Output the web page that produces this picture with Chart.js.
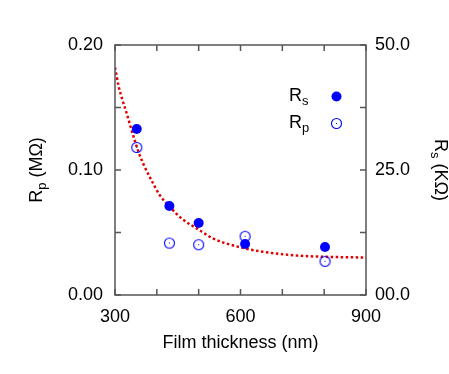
<!DOCTYPE html>
<html>
<head>
<meta charset="utf-8">
<script src="https://cdn.jsdelivr.net/npm/chart.js@4"></script>
<style>
  html, body { margin: 0; padding: 0; background: #fff; }
  #wrap { width: 449px; height: 374px; position: relative; }
</style>
</head>
<body>
<div id="wrap"><canvas id="chart"></canvas></div>
<script>
// Data
const thickness = [352, 430, 500, 611, 802];
const rsValues = [33.2, 17.8, 14.4, 10.2, 9.6];        // K ohm, right axis
const rpValues = [0.118, 0.0415, 0.0402, 0.0469, 0.0269]; // M ohm, left axis

// dotted fit curve
const fitX = [300, 309, 318, 328, 335, 347, 359, 371, 387, 407, 431, 459, 502, 534, 610, 654, 718, 798, 900];
const fitY = [0.182, 0.1665, 0.1558, 0.1452, 0.1372, 0.1238, 0.1119, 0.1025, 0.0919, 0.0799, 0.0706, 0.0613, 0.0519, 0.0453, 0.0373, 0.0346, 0.0320, 0.0306, 0.0300];

const xLabels = [300, 600, 900];
const leftLabels = [0, 0.1, 0.2];
const rightLabels = [0, 25, 50];

const FONT = '"Liberation Sans", Arial, sans-serif';
const BLUE = '#0000ff';
const FRAME = '#555555';

// open circle with a small dot in the middle
function openCircle() {
    const c = document.createElement('canvas');
    c.width = 13; c.height = 13;
    const g = c.getContext('2d');
    g.strokeStyle = BLUE;
    g.lineWidth = 1.1;
    g.beginPath();
    g.arc(6.5, 6.5, 5, 0, Math.PI * 2);
    g.stroke();
    g.fillStyle = BLUE;
    g.fillRect(6, 6, 1, 1);
    return c;
}
const rpPoint = openCircle();

// frame, inward ticks, axis titles and legend
const decor = {
    id: 'decor',
    afterDraw(chart) {
        const ctx = chart.ctx;
        const a = chart.chartArea;
        const x = chart.scales.x, y = chart.scales.y, y2 = chart.scales.y2;
        ctx.save();
        ctx.strokeStyle = FRAME;
        ctx.lineWidth = 1.5;
        ctx.strokeRect(a.left, a.top, a.right - a.left, a.bottom - a.top);

        const len = 6;
        ctx.beginPath();
        x.ticks.forEach(t => {
            const px = x.getPixelForValue(t.value);
            ctx.moveTo(px, a.bottom); ctx.lineTo(px, a.bottom - len);
            ctx.moveTo(px, a.top); ctx.lineTo(px, a.top + len);
        });
        y.ticks.forEach(t => {
            const py = y.getPixelForValue(t.value);
            ctx.moveTo(a.left, py); ctx.lineTo(a.left + len, py);
        });
        y2.ticks.forEach(t => {
            const py = y2.getPixelForValue(t.value);
            ctx.moveTo(a.right, py); ctx.lineTo(a.right - len, py);
        });
        ctx.stroke();

        ctx.fillStyle = '#000';
        ctx.textBaseline = 'alphabetic';

        // R with subscript, starting at (0,0)
        function rSub(sub, textAfter) {
            ctx.font = '18px ' + FONT;
            ctx.textAlign = 'left';
            ctx.fillText('R', 0, 0);
            let w = ctx.measureText('R').width;
            ctx.font = '13px ' + FONT;
            ctx.fillText(sub, w, 4);
            w += ctx.measureText(sub).width;
            if (textAfter) {
                ctx.font = '18px ' + FONT;
                ctx.fillText(textAfter, w, 0);
                w += ctx.measureText(textAfter).width;
            }
            return w;
        }
        function measureRSub(sub, textAfter) {
            ctx.font = '18px ' + FONT;
            let w = ctx.measureText('R').width;
            ctx.font = '13px ' + FONT;
            w += ctx.measureText(sub).width;
            if (textAfter) {
                ctx.font = '18px ' + FONT;
                w += ctx.measureText(textAfter).width;
            }
            return w;
        }

        const midY = (a.top + a.bottom) / 2;
        // left title
        ctx.save();
        ctx.translate(42, midY);
        ctx.rotate(-Math.PI / 2);
        let w = measureRSub('p', ' (M\u03A9)');
        ctx.translate(-w / 2, 0);
        rSub('p', ' (M\u03A9)');
        ctx.restore();

        // right title
        ctx.save();
        ctx.translate(435, midY);
        ctx.rotate(Math.PI / 2);
        w = measureRSub('s', ' (K\u03A9)');
        ctx.translate(-w / 2, 0);
        rSub('s', ' (K\u03A9)');
        ctx.restore();

        // x title
        ctx.font = '18px ' + FONT;
        ctx.textAlign = 'center';
        ctx.fillText('Film thickness (nm)', (a.left + a.right) / 2, 348);

        // legend
        ctx.save();
        ctx.translate(289, 101);
        rSub('s');
        ctx.restore();
        ctx.save();
        ctx.translate(289, 128);
        rSub('p');
        ctx.restore();
        ctx.fillStyle = BLUE;
        ctx.beginPath();
        ctx.arc(336.5, 96.5, 5, 0, Math.PI * 2);
        ctx.fill();
        ctx.drawImage(rpPoint, 336.5 - 6.5, 123.5 - 6.5);
        ctx.restore();
    }
};

const tickFont = { family: FONT, size: 18 };

new Chart(document.getElementById('chart'), {
    type: 'scatter',
    data: {
        datasets: [
            {
                label: 'Rs',
                data: thickness.map((t, i) => ({ x: t, y: rsValues[i] })),
                yAxisID: 'y2',
                backgroundColor: BLUE,
                borderColor: BLUE,
                pointRadius: 5,
                borderWidth: 0,
                order: 1
            },
            {
                label: 'Rp',
                data: thickness.map((t, i) => ({ x: t, y: rpValues[i] })),
                yAxisID: 'y',
                pointStyle: rpPoint,
                order: 2
            },
            {
                label: 'fit',
                data: fitX.map((t, i) => ({ x: t, y: fitY[i] })),
                yAxisID: 'y',
                showLine: true,
                borderColor: '#e00000',
                borderWidth: 2.5,
                borderDash: [2.5, 2.5],
                pointRadius: 0,
                tension: 0.4,
                cubicInterpolationMode: 'monotone',
                order: 3
            }
        ]
    },
    options: {
        responsive: true,
        maintainAspectRatio: false,
        animation: false,
        events: [],
        layout: { padding: { top: 45, left: 0, right: 0, bottom: 0 } },
        plugins: {
            legend: { display: false },
            tooltip: { enabled: false }
        },
        scales: {
            x: {
                type: 'linear',
                position: 'bottom',
                min: 300, max: 900,
                border: { display: false },
                grid: { display: false, drawTicks: false },
                ticks: {
                    stepSize: 100,
                    padding: 11,
                    color: '#000',
                    font: tickFont,
                    maxRotation: 0,
                    autoSkip: false,
                    callback: v => xLabels.includes(v) ? String(v) : ''
                },
                afterFit: s => { s.height = 79; }
            },
            y: {
                position: 'left',
                min: 0, max: 0.2,
                border: { display: false },
                grid: { display: false, drawTicks: false },
                ticks: {
                    stepSize: 0.05,
                    padding: 12,
                    color: '#000',
                    font: tickFont,
                    autoSkip: false,
                    callback: v => leftLabels.some(l => Math.abs(l - v) < 1e-9) ? v.toFixed(2) : ''
                },
                afterFit: s => { s.width = 115; }
            },
            y2: {
                position: 'right',
                min: 0, max: 50,
                border: { display: false },
                grid: { display: false, drawTicks: false },
                ticks: {
                    stepSize: 12.5,
                    padding: 9,
                    color: '#000',
                    font: tickFont,
                    autoSkip: false,
                    callback: v => rightLabels.includes(v) ? (v === 0 ? '00.0' : v.toFixed(1)) : ''
                },
                afterFit: s => { s.width = 83; }
            }
        }
    },
    plugins: [decor]
});
</script>
</body>
</html>
